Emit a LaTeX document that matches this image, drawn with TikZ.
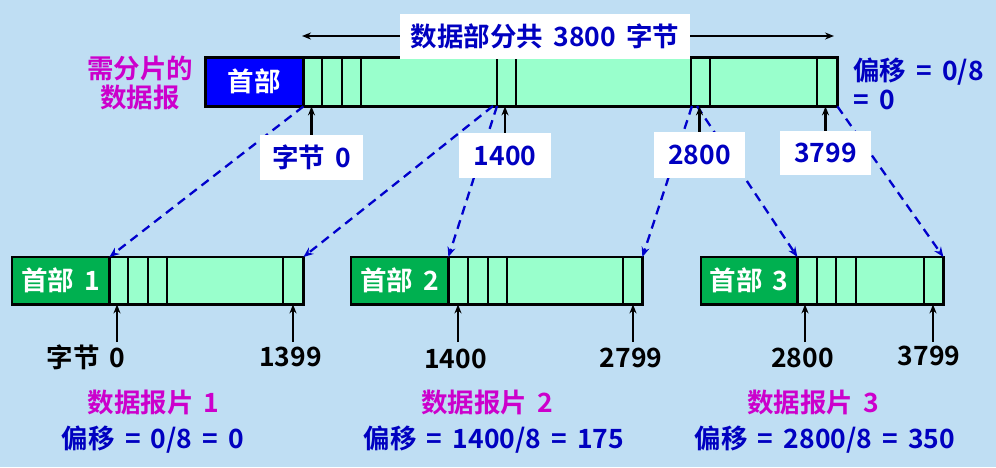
\documentclass[tikz,border=0pt]{standalone}
\usepackage{fontspec}
\setmainfont{Noto Sans CJK SC}[BoldFont=* Bold, WordSpace=1.7]
\usetikzlibrary{arrows.meta}
\definecolor{bg}{RGB}{191,222,243}
\definecolor{mint}{RGB}{153,255,204}
\definecolor{hblue}{RGB}{0,0,255}
\definecolor{hgreen}{RGB}{0,176,80}
\definecolor{dblue}{RGB}{0,0,192}
\definecolor{mag}{RGB}{204,0,204}
\definecolor{dashblue}{RGB}{0,0,204}
\tikzset{
  txt/.style={font=\fontsize{26.5}{28.5}\selectfont\bfseries, inner sep=0pt},
  frame/.style={anchor=north west, inner sep=0pt, draw=none},
  divider/.style={black, line width=2.3pt},
  topborder/.style={black, line width=3pt},
  fragborder/.style={black, line width=2.8pt},
  dl/.style={dashblue, line width=2.3pt, dash pattern=on 9pt off 6pt, -{Stealth[length=10pt,width=8pt]}},
  arr/.style={black, line width=2.3pt, -{Stealth[length=9pt,width=7pt]}},
  lbox/.style={txt, fill=white, text=dblue},
}
\begin{document}
\begin{tikzpicture}[x=1pt,y=-1pt]
\useasboundingbox (0,0) rectangle (996,467);
\fill[bg] (0,0) rectangle (996,467);

% ---------- top datagram ----------
\node[frame, minimum width=632, minimum height=49, fill=mint] (top) at (205,57) {};
\node[frame, txt, minimum width=98, minimum height=49, fill=hblue, text=white] (toph) at (205,57) {首部};
\draw[divider] (toph.north east) -- (toph.south east);
\foreach \x in {322,342,361,497,516,691,710,817} \draw[divider] (\x,57) -- (\x,106);
\draw[topborder] (top.north west) rectangle (top.south east);
\coordinate (c1400a) at (493,106);
\coordinate (c1400b) at (497,106);
\coordinate (c2800a) at (692,106);
\coordinate (c2800b) at (697,106);

% ---------- fragment 1 ----------
\node[frame, minimum width=291, minimum height=47, fill=mint] (f1) at (12,257) {};
\node[frame, txt, minimum width=97, minimum height=47, fill=hgreen, text=white] (f1h) at (12,257) {首部 1};
\draw[divider] (f1h.north east) -- (f1h.south east);
\foreach \x in {128,148,167,283} \draw[divider] (\x,257) -- (\x,304);
\draw[fragborder] (f1.north west) rectangle (f1.south east);

% ---------- fragment 2 ----------
\node[frame, minimum width=291, minimum height=47, fill=mint] (f2) at (351,257) {};
\node[frame, txt, minimum width=97, minimum height=47, fill=hgreen, text=white] (f2h) at (351,257) {首部 2};
\draw[divider] (f2h.north east) -- (f2h.south east);
\foreach \x in {468,488,507,623} \draw[divider] (\x,257) -- (\x,304);
\draw[fragborder] (f2.north west) rectangle (f2.south east);

% ---------- fragment 3 ----------
\node[frame, minimum width=242, minimum height=47, fill=mint] (f3) at (701,257) {};
\node[frame, txt, minimum width=96, minimum height=47, fill=hgreen, text=white] (f3h) at (701,257) {首部 3};
\draw[divider] (f3h.north east) -- (f3h.south east);
\foreach \x in {817,836,856,924} \draw[divider] (\x,257) -- (\x,304);
\draw[fragborder] (f3.north west) rectangle (f3.south east);

% ---------- dashed mapping lines ----------
\draw[dl] (toph.south east) -- (f1h.north east);
\draw[dl] (c1400a) -- (f1.north east);
\draw[dl] (c1400b) -- (f2h.north east);
\draw[dl] (c2800a) -- (f2.north east);
\draw[dl] (c2800b) -- (f3h.north east);
\draw[dl] (top.south east) -- (f3.north east);

% ---------- top labels ----------
\node[lbox, minimum width=290, minimum height=45] (total) at (545,36) {数据部分共 3800 字节};
\coordinate (tl) at (302,36);
\coordinate (tr) at (834,36);
\draw[arr] (total.west) -- (tl);
\draw[arr] (total.east) -- (tr);

\node[txt, text=mag, align=center] (need) at (140,83) {需分片的\\数据报};
\node[txt, text=dblue, align=left, anchor=west] (off0) at (853,84) {偏移 = 0/8\\= 0};

\node[lbox, minimum width=103, minimum height=45] (l0) at (311.5,157.5) {字节 0};
\node[lbox, minimum width=92, minimum height=45] (l1400) at (505,155.5) {1400};
\node[lbox, minimum width=91, minimum height=46] (l2800) at (699.5,155) {2800};
\node[lbox, minimum width=91, minimum height=44] (l3799) at (825.5,153) {3799};
\draw[arr] (l0.north) -- (l0.north |- top.south);
\draw[arr] (l1400.north) -- (l1400.north |- top.south);
\draw[arr] (l2800.north) -- (l2800.north |- top.south);
\draw[arr] (l3799.north) -- (l3799.north |- top.south);

% ---------- bottom labels ----------
\node[txt] (b0) at (86,357) {字节 0};
\node[txt] (b1399) at (290.5,357) {1399};
\node[txt] (b1400) at (455.5,359) {1400};
\node[txt] (b2799) at (631,357.5) {2799};
\node[txt] (b2800) at (802.5,358) {2800};
\node[txt] (b3799) at (929,356) {3799};
\coordinate (a1) at (117,342);
\coordinate (a2) at (293,342);
\coordinate (a3) at (458,342);
\coordinate (a4) at (633,342);
\coordinate (a5) at (805,342);
\coordinate (a6) at (933,342);
\draw[arr] (a1) -- (a1 |- f1.south);
\draw[arr] (a2) -- (a2 |- f1.south);
\draw[arr] (a3) -- (a3 |- f2.south);
\draw[arr] (a4) -- (a4 |- f2.south);
\draw[arr] (a5) -- (a5 |- f3.south);
\draw[arr] (a6) -- (a6 |- f3.south);

\node[txt, text=mag] (n1) at (153.5,402) {数据报片 1};
\node[txt, text=mag] (n2) at (487,402) {数据报片 2};
\node[txt, text=mag] (n3) at (813,402) {数据报片 3};
\node[txt, text=dblue] (o1) at (153,440) {偏移 = 0/8 = 0};
\node[txt, text=dblue] (o2) at (494,440) {偏移 = 1400/8 = 175};
\node[txt, text=dblue] (o3) at (825,440) {偏移 = 2800/8 = 350};
\end{tikzpicture}
\end{document}
